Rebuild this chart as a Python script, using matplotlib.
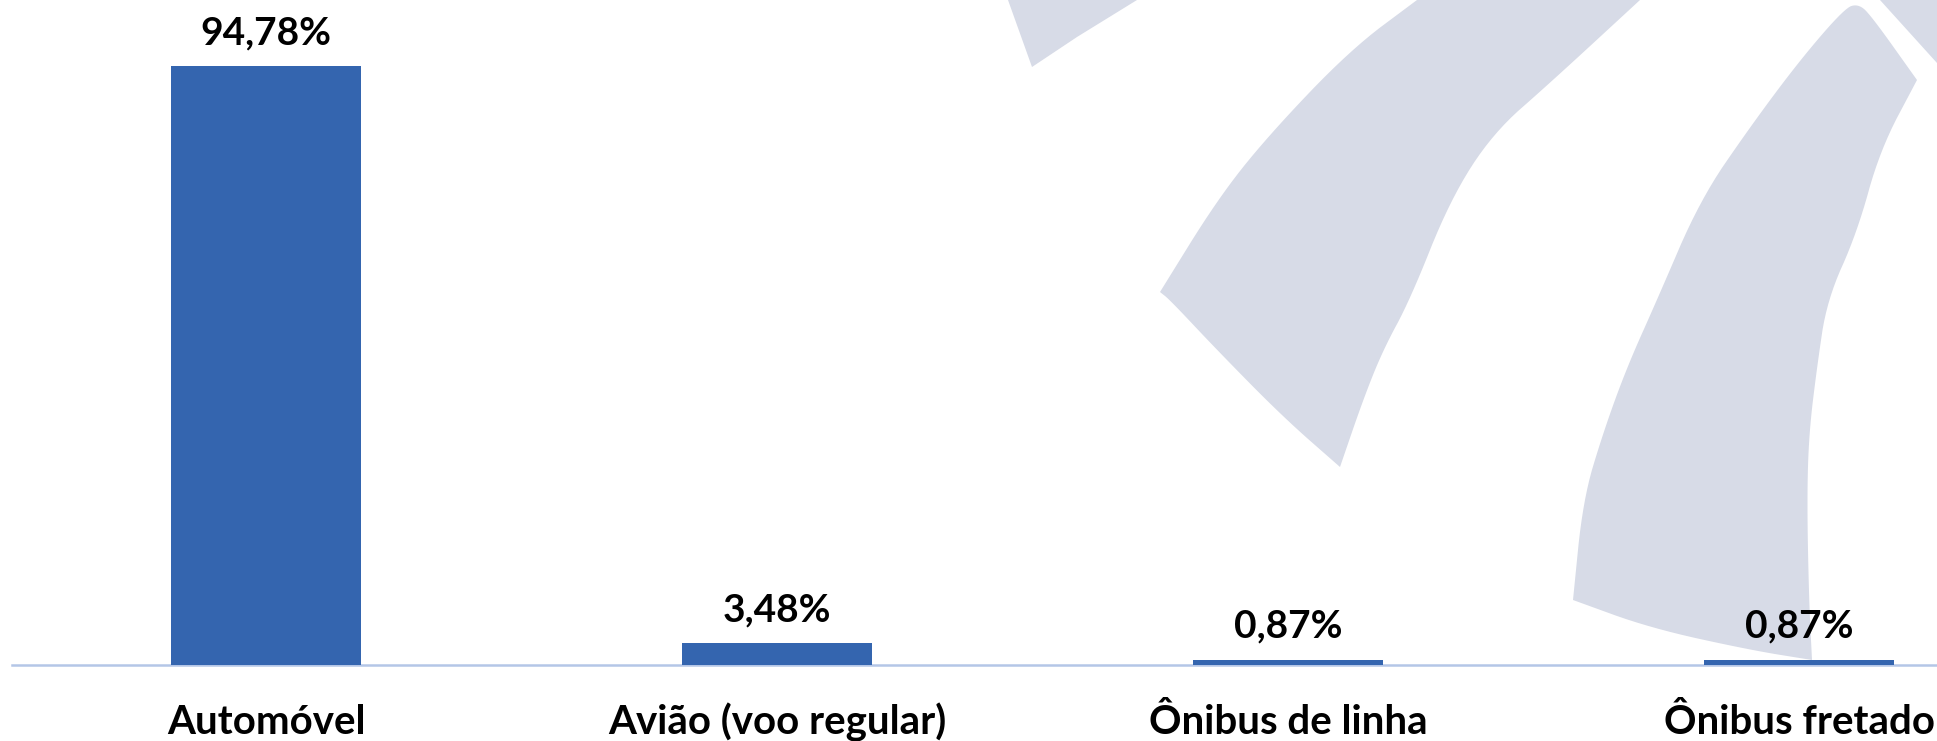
import matplotlib
matplotlib.use("Agg")
import numpy as np
import matplotlib.pyplot as plt
from matplotlib.patches import Polygon
from matplotlib.transforms import blended_transform_factory

# ---- data ----
categories = ["Automóvel", "Avião (voo regular)", "Ônibus de linha", "Ônibus fretado"]
values = [94.78, 3.48, 0.87, 0.87]
value_labels = ["94,78%", "3,48%", "0,87%", "0,87%"]

W, H = 1937, 741
DPI = 100
fig = plt.figure(figsize=(W / DPI, H / DPI), dpi=DPI)
fig.patch.set_facecolor("white")


def chaikin(chain, n=3):
    pts = np.asarray(chain, dtype=float)
    for _ in range(n):
        new = [pts[0]]
        for a, b in zip(pts[:-1], pts[1:]):
            new.append(0.75 * a + 0.25 * b)
            new.append(0.25 * a + 0.75 * b)
        new.append(pts[-1])
        pts = np.array(new)
    return pts


def shape(chains):
    out = []
    for c in chains:
        sm = chaikin(c)
        out.extend(sm[:-1].tolist())
    return out


# ---- decorative watermark (pixel coords of the background logo) ----
wm_color = "#D7DBE7"
band_a = shape([
    [(1417, 0), (1640, 0)],
    [(1640, 0), (1550, 83), (1493, 133), (1450, 200), (1410, 300),
     (1383, 350), (1363, 400), (1340, 467)],
    [(1340, 467), (1283, 417), (1217, 350), (1170, 300), (1160, 292)],
    [(1160, 292), (1217, 200), (1267, 137), (1350, 50), (1417, 0)],
])
band_b = shape([
    [(1573, 600), (1583, 500), (1603, 433), (1627, 367), (1657, 300), (1700, 200),
     (1750, 127), (1800, 60), (1845, 8), (1858, 4), (1870, 14), (1917, 80)],
    [(1917, 80), (1880, 150), (1857, 233), (1827, 300), (1817, 367), (1809, 433),
     (1807, 500), (1809, 600), (1812, 660)],
    [(1812, 660), (1750, 650), (1650, 628), (1573, 600)],
])
wedge = [(1008, 0), (1137, 0), (1077, 37), (1032, 67)]
corner = [(1880, 0), (1937, 0), (1937, 63)]

for pts in [wedge, band_a, band_b, corner]:
    poly = Polygon([(x / W, 1 - y / H) for x, y in pts], closed=True,
                   transform=fig.transFigure, facecolor=wm_color,
                   edgecolor="none", zorder=-10)
    fig.patches.append(poly)

# ---- axes ----
left = 12 / W
base = (H - 665) / H
ax = fig.add_axes([left, base, 1 - left, 1 - base])
ax.set_facecolor("none")
ax.set_xlim(-0.497, 3.27)
ax.set_ylim(0, 105.2)

x = list(range(len(categories)))
ax.bar(x, values, width=0.37, color="#3465AF", zorder=3)

for s in ["top", "left", "right"]:
    ax.spines[s].set_visible(False)
ax.spines["bottom"].set_color("#B4C6E7")
ax.spines["bottom"].set_linewidth(1.8)
ax.set_xticks([])
ax.set_yticks([])

font = ["Lato", "DejaVu Sans"]
for xi, v, lab in zip(x, values, value_labels):
    ax.annotate(lab, (xi, v), xytext=(0, 15.5), textcoords="offset points",
                ha="center", va="baseline", fontsize=28, fontweight="bold",
                family=font, color="black", zorder=5)

trans = blended_transform_factory(ax.transData, fig.transFigure)
for xi, cat in zip(x, categories):
    ax.text(xi, (H - 734) / H, cat, transform=trans, ha="center", va="baseline",
            fontsize=29, fontweight="bold", family=font, color="black",
            clip_on=False)

fig.savefig("out.png", dpi=DPI, facecolor="white")
